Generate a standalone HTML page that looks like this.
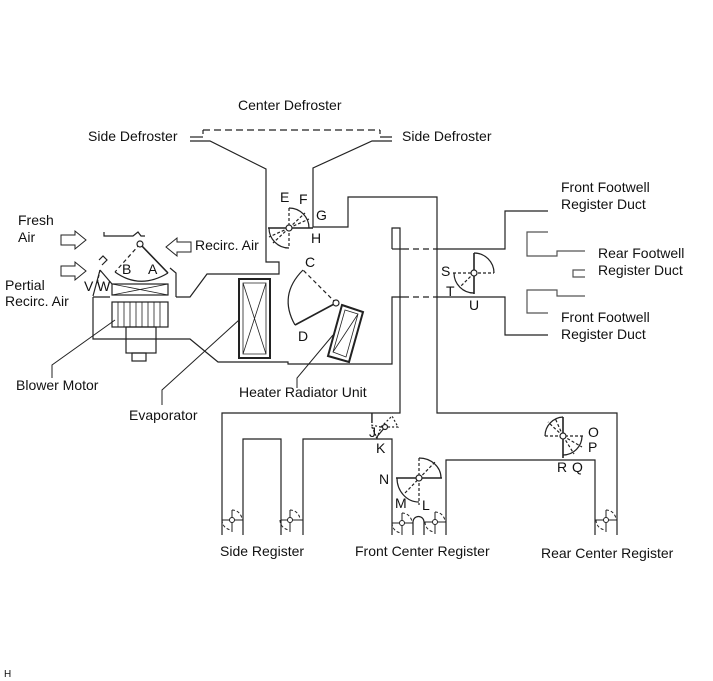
<!DOCTYPE html>
<html><head><meta charset="utf-8"><style>
html,body{margin:0;padding:0;background:#fff}
svg{display:block}
text{font-family:"Liberation Sans",sans-serif;font-size:14px;fill:#111}
</style></head><body>
<svg width="713" height="681" viewBox="0 0 713 681" xmlns="http://www.w3.org/2000/svg">
<g fill="none" stroke="#222" stroke-width="1.2">
<path d="M203,130 V134" />
<path d="M203,130 H380" stroke-dasharray="7,4"/>
<path d="M190,141 H210 L266,169 V262 H279 V274 H207 L190,297 H176"/>
<path d="M190,137 H203"/>
<path d="M380,130 V134 M380,137 H392 M392,141 H372 L313,168 V227 H348 V197 H437 V413 H617 V535"/>
<path d="M176,297 V273 L170,268"/>
<path d="M93,297 H110 M93,297 V339 H190 L218,362 H288 V364 H392 V297 H403"/>
<path d="M403,297 H437" stroke-dasharray="6,4"/>
<path d="M437,297 H505 V335 H548"/>
<path d="M392,249 V228 H400 V413 H222 V535"/>
<path d="M392,249 H403"/>
<path d="M403,249 H437" stroke-dasharray="6,4"/>
<path d="M437,249 H505 V211 H548"/>
<path d="M243,535 V439 H281 V535 M303,535 V439 H392 V535 M413,535 V522 A5.5,5.5 0 0 1 424,522 V535 M446,535 V460 H595 V535"/>
<path d="M548,232 H527 V256 H557 V251 H585 M585,270 H573 V277 H585 M548,313 H527 V290 H557 V296 H585" stroke="#555"/>
<rect x="112" y="284" width="56" height="11"/>
<path d="M112,284 L168,295 M112,295 L168,284" stroke-width="0.8"/>
<rect x="112" y="302" width="56" height="25"/>
<path d="M118,302V327M124,302V327M130,302V327M136,302V327M142,302V327M148,302V327M154,302V327M160,302V327" stroke-width="0.8"/>
<rect x="126" y="327" width="30" height="26"/>
<rect x="132" y="353" width="14" height="8"/>
<rect x="239" y="279" width="31" height="79" stroke-width="2"/>
<path d="M243,283 L266,354 M266,283 L243,354 M243,283 H266 V354 H243 Z" stroke-width="0.8"/>
<path d="M342,305 L363,312 L349,362 L328,356 Z" stroke-width="2"/>
<path d="M345,310 L333,352 M345,310 L358,314 L346,357 L333,352 Z M333,352 L358,314" stroke-width="0.8"/>
<path d="M336,303 L303,270" stroke-dasharray="4,3"/>
<path d="M336,303 L295,325" stroke-width="1.6"/>
<path d="M303,270 Q278,295 295,325"/>
<circle cx="336" cy="303" r="3" fill="#fff"/>
<path d="M104,232 V236 H133 L138,232 L141,236 H145"/>
<path d="M140,244 L168,273" stroke-width="1.6"/>
<path d="M140,244 L115,272" stroke-dasharray="4,3"/>
<path d="M115,272 Q140,290 168,273"/>
<circle cx="140" cy="244" r="3" fill="#fff"/>
<path d="M99,260 L103,256 L107,260 L102,265 M100,270 L93,296 M100,270 L112,284" />
<path d="M100,270 L97,284" stroke-dasharray="3,2"/>
<path d="M268,228 H313" stroke-width="1.6"/>
<path d="M289,208 V248 M289,228 L305,213 M289,228 L273,243 M289,228 L309,219 M289,228 L269,237" stroke-dasharray="3,2"/>
<path d="M289,208 A20,20 0 0 1 309,228 M269,228 A20,20 0 0 0 289,248"/>
<circle cx="289" cy="228" r="3" fill="#fff"/>
<path d="M474,253 V294" stroke-width="1.6"/>
<path d="M453,273 H494 M474,273 L460,287" stroke-dasharray="3,2"/>
<path d="M474,253 A20,20 0 0 1 494,273 M454,273 A20,20 0 0 0 474,293"/>
<circle cx="474" cy="273" r="3" fill="#fff"/>
<path d="M381,427 L392,416 L398,427 Z M381,427 L371,425 L377,438 Z" stroke-dasharray="2,2"/>
<path d="M385,427 L376,438"/>
<circle cx="385" cy="427" r="2.5" fill="#fff"/>
<path d="M396,478 H442" stroke-width="1.6"/>
<path d="M419,458 V505 M405,493 L436,461" stroke-dasharray="3,2"/>
<path d="M419,458 A22,20 0 0 1 441,478 M397,478 A22,24 0 0 0 419,502"/>
<circle cx="419" cy="478" r="3" fill="#fff"/>
<path d="M563,417 V458" stroke-width="1.6"/>
<path d="M545,436 H584 M563,436 L548,422 M563,436 L555,418 M563,436 L582,447 M563,436 L574,454" stroke-dasharray="3,2"/>
<path d="M563,417 A19,19 0 0 0 545,436 M582,436 A19,19 0 0 1 563,455"/>
<circle cx="563" cy="436" r="3" fill="#fff"/>
<g stroke-width="1">
<path d="M222,520 H243 M232,510 V532"/><path d="M232,510 A10,10 0 0 1 242,520 M222,520 A10,10 0 0 0 232,530" stroke-dasharray="3,2"/><circle cx="232" cy="520" r="2.5" fill="#fff"/>
<path d="M281,520 H303 M290,510 V532"/><path d="M290,510 A10,10 0 0 1 300,520 M280,520 A10,10 0 0 0 290,530" stroke-dasharray="3,2"/><circle cx="290" cy="520" r="2.5" fill="#fff"/>
<path d="M392,523 H413 M402,513 V535"/><path d="M402,513 A10,10 0 0 1 412,523 M392,523 A10,10 0 0 0 402,533" stroke-dasharray="3,2"/><circle cx="402" cy="523" r="2.5" fill="#fff"/>
<path d="M424,522 H446 M435,512 V534"/><path d="M435,512 A10,10 0 0 1 445,522 M425,522 A10,10 0 0 0 435,532" stroke-dasharray="3,2"/><circle cx="435" cy="522" r="2.5" fill="#fff"/>
<path d="M595,520 H617 M606,510 V532"/><path d="M606,510 A10,10 0 0 1 616,520 M596,520 A10,10 0 0 0 606,530" stroke-dasharray="3,2"/><circle cx="606" cy="520" r="2.5" fill="#fff"/>
</g>
<path d="M115,320 L52,365 V378 M239,320 L162,390 V405 M333,335 L297,378 V388" stroke-width="1"/>
<path d="M61,235 H75 V231 L86,240 L75,249 V245 H61 Z" stroke-width="1"/>
<path d="M61,266 H75 V262 L86,271 L75,280 V276 H61 Z" stroke-width="1"/>
<path d="M191,242 H177 V238 L166,247 L177,256 V252 H191 Z" stroke-width="1"/>
</g>
<text x="238" y="110">Center Defroster</text>
<text x="88" y="141">Side Defroster</text>
<text x="402" y="141">Side Defroster</text>
<text x="18" y="225">Fresh</text><text x="18" y="242">Air</text>
<text x="195" y="250">Recirc. Air</text>
<text x="5" y="290">Pertial</text><text x="5" y="306">Recirc. Air</text>
<text x="16" y="390">Blower Motor</text>
<text x="129" y="420">Evaporator</text>
<text x="239" y="397">Heater Radiator Unit</text>
<text x="561" y="192">Front Footwell</text><text x="561" y="209">Register Duct</text>
<text x="598" y="258">Rear Footwell</text><text x="598" y="275">Register Duct</text>
<text x="561" y="322">Front Footwell</text><text x="561" y="339">Register Duct</text>
<text x="220" y="556">Side Register</text>
<text x="355" y="556">Front Center Register</text>
<text x="541" y="558">Rear Center Register</text>
<text x="280" y="202">E</text><text x="299" y="204">F</text><text x="316" y="220">G</text><text x="311" y="243">H</text>
<text x="305" y="267">C</text><text x="298" y="341">D</text>
<text x="122" y="274">B</text><text x="148" y="274">A</text>
<text x="84" y="291">V</text><text x="97" y="291">W</text>
<text x="441" y="276">S</text><text x="446" y="296">T</text><text x="469" y="310">U</text>
<text x="370" y="423">I</text><text x="369" y="437">J</text><text x="376" y="453">K</text>
<text x="379" y="484">N</text><text x="395" y="508">M</text><text x="422" y="510">L</text>
<text x="588" y="437">O</text><text x="588" y="452">P</text><text x="557" y="472">R</text><text x="572" y="472">Q</text>
<text x="4" y="677" style="font-size:10px">H</text>
</svg>
</body></html>
